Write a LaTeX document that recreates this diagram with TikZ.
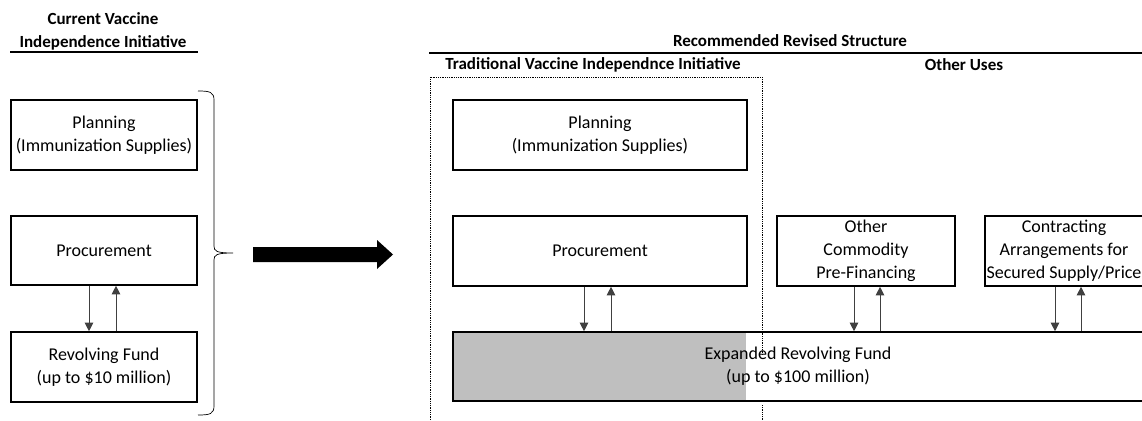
\documentclass[tikz,border=0pt]{standalone}
\usepackage{fontspec}
\setmainfont{Carlito}
\usetikzlibrary{arrows.meta}
\tikzset{
  box/.style={draw, line width=1.6pt, align=center, inner sep=0pt,
    font=\fontsize{18}{23}\selectfont},
  flow/.style={-{Triangle[length=8.5pt,width=8.5pt]}, line width=0.8pt, black!75},
  hdr/.style={font=\bfseries\fontsize{17}{23}\selectfont, align=center},
}
\begin{document}
\begin{tikzpicture}[x=1pt,y=-1pt] % vaccine initiative restructuring

\useasboundingbox (0,0) rectangle (1142,420);
\clip (0,0) rectangle (1142,420);
% current structure
\node[hdr] (curhead) at (103,31) {Current Vaccine\\Independence Initiative};
\draw[line width=1.6pt] (10,52) -- (198,52);
\node[box, minimum width=186pt, minimum height=70pt] (planL) at (104,135)
  {Planning\\(Immunization Supplies)};
\node[box, minimum width=186pt, minimum height=69pt] (procL) at (104,250.5) {Procurement};
\node[box, minimum width=186pt, minimum height=70pt] (fundL) at (104,367)
  {Revolving Fund\\(up to \$10 million)};
\draw[flow] ([xshift=-15pt]procL.south) -- ([xshift=-15pt]fundL.north);
\draw[flow] ([xshift=12pt]fundL.north) -- ([xshift=12pt]procL.south);
\draw[line width=0.7pt] (198,91) .. controls (210,91) and (214,92) .. (214,100)
  -- (214,246) .. controls (214,251) and (216,253) .. (233,253)
  (233,253) .. controls (216,253) and (214,255) .. (214,260)
  -- (214,406) .. controls (214,414) and (210,415) .. (198,415);
% big arrow
\coordinate (bigtail) at (253,254.5);
\fill (bigtail) ++(0,-7.5) -- ++(124,0) -- ++(0,-7) -- (393,254.5)
  -- (377,269) -- ++(0,-7) -- (253,262) -- cycle;
% recommended structure
\node[hdr] (newhead) at (790,41) {Recommended Revised Structure};
\draw[line width=1.6pt] (429,53) -- (1142,53);
\node[hdr] (tradhead) at (593,65) {Traditional Vaccine Independnce Initiative};
\node[hdr] (otherhead) at (964,65) {Other Uses};
\draw[densely dotted, line width=0.8pt] (430,420) -- (430,77) -- (762,77) -- (762,355)
  (762,405) -- (762,420);
\fill[black!25] (453,332) rectangle (746,401);
\node[box, minimum width=690pt, minimum height=69pt] (fundR) at (798,366.5)
  {Expanded Revolving Fund\\(up to \$100 million)};
\node[box, minimum width=294pt, minimum height=70pt] (planR) at (600,135)
  {Planning\\(Immunization Supplies)};
\node[box, minimum width=294pt, minimum height=70pt] (procR) at (600,251) {Procurement};
\node[box, minimum width=178pt, minimum height=70pt] (otherR) at (866,251)
  {Other\\Commodity\\Pre-Financing};
\node[box, minimum width=158pt, minimum height=70pt] (contR) at (1064,251)
  {Contracting\\Arrangements for\\Secured Supply/Price};
\draw[flow] ([xshift=-16pt]procR.south) -- ([xshift=-16pt]procR.south |- fundR.north);
\draw[flow] ([xshift=11pt]procR.south |- fundR.north) -- ([xshift=11pt]procR.south);
\draw[flow] ([xshift=-12pt]otherR.south) -- ([xshift=-12pt]otherR.south |- fundR.north);
\draw[flow] ([xshift=14pt]otherR.south |- fundR.north) -- ([xshift=14pt]otherR.south);
\draw[flow] ([xshift=-9pt]contR.south) -- ([xshift=-9pt]contR.south |- fundR.north);
\draw[flow] ([xshift=17pt]contR.south |- fundR.north) -- ([xshift=17pt]contR.south);
\end{tikzpicture}
\end{document}
